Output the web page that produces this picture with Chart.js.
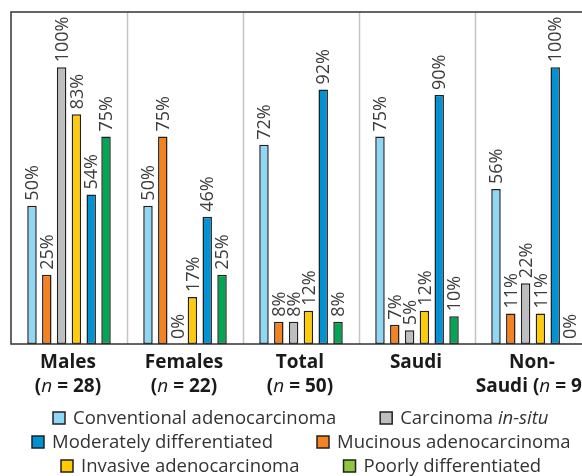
<!DOCTYPE html>
<html>
<head>
<meta charset="utf-8">
<script src="https://cdn.jsdelivr.net/npm/chart.js@4.4.0/dist/chart.umd.min.js"></script>
<style>
  html, body { margin: 0; padding: 0; overflow: hidden; background: #fff; }
  canvas { display: block; }
</style>
</head>
<body>
<canvas id="myChart" width="600" height="476"></canvas>
<script>
// groups along the x axis
const categories = ['Males', 'Females', 'Total', 'Saudi', 'Non-Saudi'];
const labelLine1 = ['Males', 'Females', 'Total', 'Saudi', 'Non-'];
const labelLine2Prefix = ['', '', '', '', 'Saudi '];
const groupN = ['28', '22', '50', '', '9'];

// percentages per histological type
const conventional = [50, 50, 72, 75, 56];
const mucinous = [25, 75, 8, 7, 11];
const inSitu = [100, 0, 8, 5, 22];
const invasive = [83, 17, 12, 12, 11];
const moderately = [54, 46, 92, 90, 100];
const poorly = [75, 25, 8, 10, 0];

const COLORS = {
  conventional: '#8fd7f6',
  mucinous: '#f58220',
  inSitu: '#bcbec0',
  invasive: '#ffcb05',
  moderately: '#0092d2',
  poorly: '#00a651',
  poorlyLegend: '#8dc63f'
};

const FONT = '"Open Sans", "DejaVu Sans", sans-serif';

function mkSet(label, data, color) {
  return {
    label: label,
    data: data,
    backgroundColor: color,
    borderColor: '#231f20',
    borderWidth: 1.5,
    borderSkipped: false,
    barPercentage: 0.64,
    categoryPercentage: 0.766
  };
}

function partsWidth(ctx, parts) {
  var total = 0;
  parts.forEach(function(p) { ctx.font = p[1]; total += ctx.measureText(p[0]).width; });
  return total;
}

function drawParts(ctx, parts, x, y) {
  parts.forEach(function(p) {
    ctx.font = p[1];
    ctx.fillText(p[0], x, y);
    x += ctx.measureText(p[0]).width;
  });
}

const extras = {
  id: 'extras',
  beforeDatasetsDraw(chart) {
    const ctx = chart.ctx;
    const a = chart.chartArea;
    const xs = chart.scales.x;
    ctx.save();
    ctx.strokeStyle = '#c4c4c4';
    ctx.lineWidth = 1.5;
    for (let i = 1; i < categories.length; i++) {
      const gx = Math.round((xs.getPixelForValue(i - 1) + xs.getPixelForValue(i)) / 2) + 0.5;
      ctx.beginPath();
      ctx.moveTo(gx, a.top);
      ctx.lineTo(gx, a.bottom);
      ctx.stroke();
    }
    ctx.restore();
  },
  afterDatasetsDraw(chart) {
    const ctx = chart.ctx;
    const a = chart.chartArea;
    const xs = chart.scales.x;

    // frame
    ctx.save();
    ctx.strokeStyle = '#333';
    ctx.lineWidth = 1.5;
    ctx.beginPath();
    ctx.moveTo(a.right, a.top);
    ctx.lineTo(a.left, a.top);
    ctx.lineTo(a.left, a.bottom);
    ctx.lineTo(a.right, a.bottom);
    ctx.stroke();
    ctx.restore();

    // rotated value labels
    ctx.save();
    ctx.fillStyle = '#3c3c3c';
    ctx.font = '18px ' + FONT;
    chart.data.datasets.forEach(function(ds, di) {
      chart.getDatasetMeta(di).data.forEach(function(bar, i) {
        ctx.save();
        ctx.translate(bar.x + 1, bar.y - 5);
        ctx.rotate(-Math.PI / 2);
        ctx.textAlign = 'left';
        ctx.textBaseline = 'middle';
        ctx.fillText(ds.data[i] + '%', 0, 0);
        ctx.restore();
      });
    });
    ctx.restore();

    // group labels
    ctx.save();
    ctx.fillStyle = '#1a1a1a';
    ctx.textAlign = 'left';
    ctx.textBaseline = 'alphabetic';
    const bold = 'bold 19px ' + FONT;
    const ital = 'italic 19px ' + FONT;
    for (let i = 0; i < categories.length; i++) {
      const cx = xs.getPixelForValue(i) - 1;
      const l1 = [[labelLine1[i], bold]];
      drawParts(ctx, l1, cx - partsWidth(ctx, l1) / 2, a.bottom + 24);
      if (groupN[i]) {
        const l2 = [[labelLine2Prefix[i] + '(', bold], ['n', ital], [' = ' + groupN[i] + ')', bold]];
        drawParts(ctx, l2, cx - partsWidth(ctx, l2) / 2, a.bottom + 48);
      }
    }
    ctx.restore();

    // legend
    const rows = [
      [[COLORS.conventional, [['Conventional adenocarcinoma', '']]], [COLORS.inSitu, [['Carcinoma ', ''], ['in-situ', 'italic ']]]],
      [[COLORS.moderately, [['Moderately differentiated', '']]], [COLORS.mucinous, [['Mucinous adenocarcinoma', '']]]],
      [[COLORS.invasive, [['Invasive adenocarcinoma', '']]], [COLORS.poorlyLegend, [['Poorly differentiated', '']]]]
    ];
    ctx.save();
    ctx.textBaseline = 'middle';
    ctx.textAlign = 'left';
    const lf = '18.5px ' + FONT;
    const box = 12, boxGap = 8, itemGap = 44;
    const centerX = (a.left + a.right) / 2;
    rows.forEach(function(row, r) {
      const y = 418 + r * 24;
      const widths = row.map(function(it) {
        return box + boxGap + partsWidth(ctx, it[1].map(function(p) { return [p[0], p[1] + lf]; }));
      });
      let x = Math.round(centerX - (widths[0] + widths[1] + itemGap) / 2);
      row.forEach(function(it, k) {
        ctx.fillStyle = it[0];
        ctx.fillRect(x, y - box / 2, box, box);
        ctx.strokeStyle = '#231f20';
        ctx.lineWidth = 1.5;
        ctx.strokeRect(x, y - box / 2, box, box);
        ctx.fillStyle = '#333';
        drawParts(ctx, it[1].map(function(p) { return [p[0], p[1] + lf]; }), x + box + boxGap, y + 1);
        x += widths[k] + itemGap;
      });
    });
    ctx.restore();
  }
};

window.onload = function() {
  const ctx = document.getElementById('myChart');
  new Chart(ctx, {
    type: 'bar',
    data: {
      labels: categories,
      datasets: [
        mkSet('Conventional adenocarcinoma', conventional, COLORS.conventional),
        mkSet('Mucinous adenocarcinoma', mucinous, COLORS.mucinous),
        mkSet('Carcinoma in-situ', inSitu, COLORS.inSitu),
        mkSet('Invasive adenocarcinoma', invasive, COLORS.invasive),
        mkSet('Moderately differentiated', moderately, COLORS.moderately),
        mkSet('Poorly differentiated', poorly, COLORS.poorly)
      ]
    },
    options: {
      responsive: false,
      animation: false,
      layout: { padding: { left: 11, top: 12, right: 9, bottom: 132 } },
      plugins: { legend: { display: false }, tooltip: { enabled: false } },
      scales: {
        x: { display: false },
        y: { display: false, min: 0, max: 120 }
      }
    },
    plugins: [extras]
  });
};
</script>
</body>
</html>
